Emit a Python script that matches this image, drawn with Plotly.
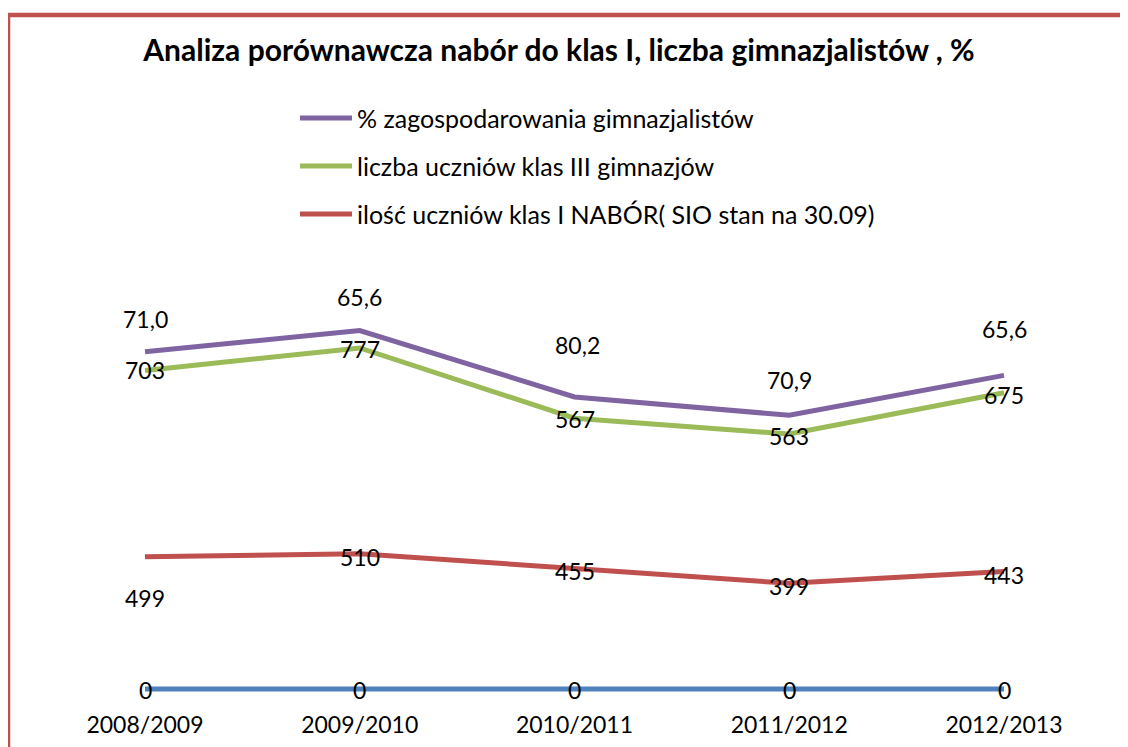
import numpy as np
import plotly.graph_objects as go

# ---- data ----
categories = ["2008/2009", "2009/2010", "2010/2011", "2011/2012", "2012/2013"]
zero_series = [0, 0, 0, 0, 0]
nabor = [499, 510, 455, 399, 443]
gimnazjum_iii = [703, 777, 567, 563, 675]
procent = [71.0, 65.6, 80.2, 70.9, 65.6]

name_zero = "Seria1"
name_nabor = "ilość uczniów klas I NABÓR( SIO stan na 30.09)"
name_gimn = "liczba uczniów klas III gimnazjów"
name_proc = "% zagospodarowania gimnazjalistów"

title_text = "Analiza porównawcza nabór do klas I, liczba gimnazjalistów , %"

# ---- styles ----
W, H = 1128, 747
OFF = 8  # default page body margin shifts the figure
FONT = "Lato"
C_BLUE = "#4F81BD"
C_RED = "#C0504D"
C_GREEN = "#9BBB59"
C_PURPLE = "#8064A2"
LW = 5
LABEL_SIZE = 23


def px_x(px):
    return (px - OFF) / W


def px_y(py):
    return 1 - (py - OFF) / H


fig = go.Figure()
series = [
    (name_zero, zero_series, C_BLUE),
    (name_nabor, nabor, C_RED),
    (name_gimn, gimnazjum_iii, C_GREEN),
    (name_proc, procent, C_PURPLE),
]
for nm, vals, col in series:
    fig.add_trace(go.Scatter(
        x=categories, y=vals, name=nm, mode="lines",
        stackgroup="one", fill="none",
        line=dict(color=col, width=LW),
        showlegend=False, hoverinfo="skip",
    ))

# data labels (placed at stacked positions)
cum = np.cumsum(np.array([zero_series, nabor, gimnazjum_iii, procent], dtype=float), axis=0)


def fmt_int(v):
    return f"{v:.0f}"


def fmt_pct(v):
    return f"{v:.1f}".replace(".", ",")


label_specs = [
    (0, zero_series, fmt_int, [0, 0, 0, 0, 0], [-1, -1, -1, -1, -1]),
    (1, nabor, fmt_int, [0, 0, 0, 0, 0], [-41, -3, -3, -3, -3]),
    (2, gimnazjum_iii, fmt_int, [0, 0, 0, 0, 0], [0, -1, -1, -2, -2]),
    (3, procent, fmt_pct, [0, 0, 3, 0, 0], [33, 34, 52, 35, 46]),
]
annotations = []
for idx, vals, f, xs, ys in label_specs:
    for i, c in enumerate(categories):
        annotations.append(dict(
            x=c, y=cum[idx][i], xref="x", yref="y",
            text=f(vals[i]), showarrow=False,
            xanchor="center", yanchor="middle",
            xshift=xs[i], yshift=ys[i],
            font=dict(family=FONT, size=LABEL_SIZE, color="black"),
        ))

# custom legend (long line swatches as in the original)
legend_items = [(name_proc, C_PURPLE), (name_gimn, C_GREEN), (name_nabor, C_RED)]
legend_rows_px = [118, 166, 214]
shapes = []
for (nm, col), py in zip(legend_items, legend_rows_px):
    yp = px_y(py)
    shapes.append(dict(type="line", xref="paper", yref="paper",
                       x0=px_x(300), x1=px_x(352), y0=yp, y1=yp,
                       line=dict(color=col, width=LW)))
    annotations.append(dict(x=px_x(355), y=yp, xref="paper", yref="paper",
                            text=nm, showarrow=False, xanchor="left", yanchor="middle",
                            font=dict(family=FONT, size=25, color="black")))

# chart border
shapes.append(dict(type="rect", xref="paper", yref="paper",
                   x0=px_x(8), x1=1.05, y0=-0.05, y1=px_y(15),
                   line=dict(color=C_RED, width=4.5), fillcolor="rgba(0,0,0,0)"))

# axis geometry (category 0 at x=145px, category 4 at x=1004px, value 0 at y=689px)
spacing = (1004 - 145) / 4
x0 = -(145 - OFF) / spacing
x1 = x0 + W / spacing
scale = 0.265
y0 = -(H - (689 - OFF)) / scale
y1 = y0 + H / scale

fig.update_layout(
    width=W, height=H,
    margin=dict(l=0, r=0, t=0, b=0, autoexpand=False),
    paper_bgcolor="white", plot_bgcolor="white",
    showlegend=False,
    title=dict(text="<b>" + title_text + "</b>", x=px_x(559), y=px_y(50),
               xref="paper", yref="paper", xanchor="center", yanchor="middle",
               font=dict(family=FONT, size=30, color="black")),
    xaxis=dict(type="category", range=[x0, x1], showgrid=False, zeroline=False,
               showline=False, ticks="", anchor="free",
               position=(H - (689 - OFF)) / H,
               tickfont=dict(family=FONT, size=LABEL_SIZE, color="black"),
               ticklabelstandoff=20),
    yaxis=dict(range=[y0, y1], visible=False, showgrid=False, zeroline=False),
    annotations=annotations,
    shapes=shapes,
)

fig.write_html("out.html")
